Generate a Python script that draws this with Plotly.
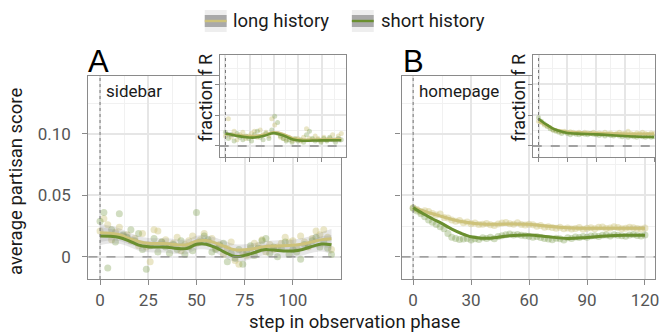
import plotly.graph_objects as go

# ------------------------------------------------------------------ data
# main panel A (sidebar): smoothed trend knots
a_knots = [0, 5, 10, 15, 20, 25, 30, 35, 40, 45, 50, 55, 60, 65, 70, 75, 80, 85, 90, 95, 100, 105, 110, 115, 120]
a_short_line = [0.0170, 0.0168, 0.0158, 0.0130, 0.0095, 0.0082, 0.0080, 0.0078, 0.0068, 0.0068, 0.0102, 0.0103, 0.0075,
                0.0035, 0.0003, 0.0012, 0.0035, 0.0058, 0.0055, 0.0048, 0.0048, 0.0060, 0.0085, 0.0105, 0.0098]
a_long_line = [0.0195, 0.0192, 0.0180, 0.0150, 0.0125, 0.0110, 0.0108, 0.0107, 0.0098, 0.0098, 0.0128, 0.0132, 0.0112,
               0.0082, 0.0058, 0.0058, 0.0068, 0.0082, 0.0088, 0.0090, 0.0095, 0.0105, 0.0122, 0.0140, 0.0148]
a_band = [0.0075, 0.0060, 0.0052, 0.0048, 0.0045, 0.0044, 0.0044, 0.0044, 0.0044, 0.0044, 0.0044, 0.0044, 0.0044,
          0.0044, 0.0044, 0.0044, 0.0044, 0.0044, 0.0044, 0.0044, 0.0045, 0.0048, 0.0052, 0.0062, 0.0078]
# per-step observations (every 2nd step)
a_short_pts = [0.029, 0.036, -0.009, 0.022, 0.012, 0.035, 0.018, 0.016, 0.022, 0.013, 0.019, 0.006, -0.010, 0.009,
               0.015, 0.004, 0.012, 0.008, 0.003, 0.010, 0.006, 0.013, 0.002, 0.008, 0.005, 0.036, 0.012, 0.017,
               0.014, 0.004, 0.006, 0.009, 0.011, -0.004, 0.003, -0.001, 0.006, -0.006, 0.004, 0.009, 0.001, 0.007,
               0.013, 0.015, 0.003, 0.008, 0.000, 0.007, 0.012, 0.002, 0.006, 0.004, -0.002, 0.010, 0.009, 0.013,
               0.016, 0.008, 0.012, 0.007, 0.002]
a_long_pts = [0.021, 0.031, 0.026, 0.014, 0.020, 0.024, 0.017, 0.018, 0.013, 0.015, 0.009, 0.019, 0.008, -0.004,
              0.022, 0.021, 0.012, 0.014, 0.009, 0.011, 0.016, 0.005, 0.010, 0.013, 0.017, 0.011, 0.014, 0.019,
              0.012, 0.015, 0.007, 0.010, 0.002, 0.007, 0.012, -0.003, -0.006, 0.003, 0.001, 0.007, 0.011, 0.009,
              0.014, 0.004, 0.010, 0.006, 0.008, 0.011, 0.016, 0.012, 0.013, 0.007, 0.017, 0.012, 0.008, 0.015,
              0.021, 0.018, 0.022, 0.016, 0.006]

# main panel B (homepage)
b_knots = [0, 5, 10, 15, 20, 25, 30, 35, 40, 50, 60, 70, 80, 90, 100, 110, 120]
b_short_line = [0.0400, 0.0352, 0.0310, 0.0270, 0.0225, 0.0190, 0.0163, 0.0152, 0.0152, 0.0172, 0.0178, 0.0163,
                0.0150, 0.0158, 0.0170, 0.0175, 0.0175]
b_long_line = [0.0400, 0.0375, 0.0350, 0.0328, 0.0305, 0.0287, 0.0275, 0.0268, 0.0264, 0.0268, 0.0265, 0.0248,
               0.0236, 0.0232, 0.0232, 0.0233, 0.0233]
b_band = [0.0016, 0.0013, 0.0012, 0.0011, 0.0011, 0.0011, 0.0011, 0.0011, 0.0011, 0.0011, 0.0011, 0.0011,
          0.0011, 0.0011, 0.0011, 0.0012, 0.0015]
b_long_pts = [0.0400, 0.0385, 0.0365, 0.0375, 0.0368, 0.0352, 0.0340, 0.0348, 0.0320, 0.0315, 0.0300, 0.0290,
              0.0295, 0.0278, 0.0283, 0.0270, 0.0276, 0.0262, 0.0265, 0.0272, 0.0260, 0.0255, 0.0268, 0.0275,
              0.0280, 0.0270, 0.0265, 0.0278, 0.0262, 0.0258, 0.0265, 0.0260, 0.0248, 0.0255, 0.0240, 0.0245,
              0.0238, 0.0232, 0.0240, 0.0228, 0.0235, 0.0226, 0.0230, 0.0238, 0.0225, 0.0232, 0.0236, 0.0228,
              0.0240, 0.0242, 0.0230, 0.0235, 0.0244, 0.0238, 0.0228, 0.0232, 0.0240, 0.0236, 0.0230, 0.0226, 0.0234]
b_short_pts = [0.0395, 0.0372, 0.0350, 0.0325, 0.0300, 0.0282, 0.0262, 0.0245, 0.0228, 0.0190, 0.0160, 0.0150,
               0.0142, 0.0145, 0.0150, 0.0138, 0.0148, 0.0142, 0.0155, 0.0150, 0.0160, 0.0148, 0.0165, 0.0172,
               0.0180, 0.0185, 0.0178, 0.0182, 0.0175, 0.0172, 0.0168, 0.0160, 0.0165, 0.0158, 0.0150, 0.0145,
               0.0140, 0.0152, 0.0148, 0.0138, 0.0155, 0.0150, 0.0162, 0.0158, 0.0165, 0.0160, 0.0170, 0.0172,
               0.0166, 0.0175, 0.0178, 0.0170, 0.0180, 0.0176, 0.0172, 0.0168, 0.0178, 0.0182, 0.0174, 0.0170, 0.0178]

# inset A (fraction of R, sidebar)
ia_knots = [0, 10, 20, 30, 40, 50, 60, 70, 80, 90, 100, 110, 120]
ia_short_line = [0.100, 0.085, 0.072, 0.068, 0.082, 0.104, 0.085, 0.052, 0.042, 0.044, 0.045, 0.046, 0.046]
ia_long_line = [0.095, 0.090, 0.082, 0.080, 0.090, 0.110, 0.095, 0.062, 0.050, 0.050, 0.052, 0.053, 0.053]
ia_band = [0.020, 0.014, 0.012, 0.012, 0.012, 0.012, 0.012, 0.012, 0.012, 0.012, 0.012, 0.014, 0.020]
ia_short_pts = [0.11, 0.06, 0.09, 0.04, 0.10, 0.07, 0.05, 0.08, 0.06, 0.04, 0.09, 0.12, 0.07, 0.05, 0.10, 0.06,
                0.13, 0.24, 0.19, 0.08, 0.06, 0.04, 0.05, 0.03, 0.06, 0.04, 0.05, 0.03, 0.09, 0.12, 0.06, 0.04,
                0.05, 0.03, 0.06, 0.04, 0.07, 0.05, 0.03, 0.06, 0.05]
ia_long_pts = [0.08, 0.22, 0.07, 0.12, 0.05, 0.09, 0.11, 0.06, 0.08, 0.10, 0.12, 0.07, 0.13, 0.09, 0.11, 0.08,
               0.22, 0.17, 0.10, 0.07, 0.06, 0.05, 0.07, 0.04, 0.05, 0.06, 0.04, 0.07, 0.14, 0.06, 0.05, 0.08,
               0.06, 0.04, 0.07, 0.05, 0.06, 0.09, 0.05, 0.08, 0.10]

# inset B (fraction of R, homepage)
ib_knots = [0, 5, 10, 15, 20, 30, 40, 60, 80, 100, 120]
ib_short_line = [0.220, 0.190, 0.165, 0.140, 0.125, 0.105, 0.100, 0.094, 0.085, 0.077, 0.073]
ib_long_line = [0.200, 0.180, 0.160, 0.140, 0.128, 0.115, 0.110, 0.105, 0.100, 0.098, 0.098]
ib_band = [0.012, 0.008, 0.007, 0.006, 0.006, 0.006, 0.006, 0.006, 0.006, 0.007, 0.010]
ib_short_pts = [0.23, 0.20, 0.18, 0.16, 0.14, 0.13, 0.12, 0.11, 0.10, 0.11, 0.10, 0.09, 0.10, 0.095, 0.09, 0.10,
                0.095, 0.09, 0.10, 0.095, 0.09, 0.085, 0.09, 0.08, 0.09, 0.085, 0.08, 0.09, 0.08, 0.075, 0.085,
                0.07, 0.08, 0.075, 0.07, 0.08, 0.075, 0.07, 0.08, 0.07, 0.075]
ib_long_pts = [0.20, 0.19, 0.17, 0.16, 0.15, 0.13, 0.125, 0.12, 0.115, 0.12, 0.11, 0.115, 0.11, 0.105, 0.11, 0.10,
               0.11, 0.105, 0.10, 0.11, 0.10, 0.105, 0.10, 0.11, 0.10, 0.105, 0.095, 0.10, 0.11, 0.10, 0.105,
               0.12, 0.10, 0.095, 0.105, 0.10, 0.11, 0.10, 0.095, 0.105, 0.10]

series_names = ["long history", "short history"]
main_y_tickvals = [0, 0.05, 0.10]
main_y_ticktext = ["0", "0.05", "0.10"]

# ------------------------------------------------------------------ style
W, H = 662, 335
FONT = "Roboto, Lato, sans-serif"
FONT_WIDE = "Liberation Sans, Arial, sans-serif"
LONG_LINE = "#cdc27a"
SHORT_LINE = "#6a8f2f"
LONG_PT = "rgba(205,196,122,0.42)"
SHORT_PT = "rgba(112,150,62,0.32)"
BAND = "rgba(140,140,140,0.22)"
AXIS_COL = "#8a8a8a"


def px(x):
    return x / W


def py(y):
    return 1 - y / H


fig = go.Figure()

panels = [
    dict(xa="x", ya="y", step=2, ms=7, knots=a_knots, lines=(a_long_line, a_short_line), band=a_band,
         pts=(a_long_pts, a_short_pts), lw=3),
    dict(xa="x2", ya="y2", step=2, ms=7, knots=b_knots, lines=(b_long_line, b_short_line), band=b_band,
         pts=(b_long_pts, b_short_pts), lw=3),
    dict(xa="x3", ya="y3", step=3, ms=5, knots=ia_knots, lines=(ia_long_line, ia_short_line), band=ia_band,
         pts=(ia_long_pts, ia_short_pts), lw=2.6),
    dict(xa="x4", ya="y4", step=3, ms=5, knots=ib_knots, lines=(ib_long_line, ib_short_line), band=ib_band,
         pts=(ib_long_pts, ib_short_pts), lw=2.6),
]

for p in panels:
    for vals, col in zip(p["pts"], (LONG_PT, SHORT_PT)):
        xs = [i * p["step"] for i in range(len(vals))]
        fig.add_trace(go.Scatter(x=xs, y=vals, mode="markers", xaxis=p["xa"], yaxis=p["ya"],
                                 marker=dict(size=p["ms"], color=col, line=dict(width=0)),
                                 showlegend=False, hoverinfo="skip"))
    for line in p["lines"]:
        lo = [v - b for v, b in zip(line, p["band"])]
        hi = [v + b for v, b in zip(line, p["band"])]
        fig.add_trace(go.Scatter(x=p["knots"], y=lo, mode="lines", xaxis=p["xa"], yaxis=p["ya"],
                                 line=dict(width=0, shape="spline"), showlegend=False, hoverinfo="skip"))
        fig.add_trace(go.Scatter(x=p["knots"], y=hi, mode="lines", xaxis=p["xa"], yaxis=p["ya"],
                                 line=dict(width=0, shape="spline"), fill="tonexty", fillcolor=BAND,
                                 showlegend=False, hoverinfo="skip"))
    for line, col, name in zip(p["lines"], (LONG_LINE, SHORT_LINE), series_names):
        fig.add_trace(go.Scatter(x=p["knots"], y=line, mode="lines", xaxis=p["xa"], yaxis=p["ya"], name=name,
                                 line=dict(width=p["lw"], color=col, shape="spline"),
                                 showlegend=False, hoverinfo="skip"))


def axis(rng, domain, anchor, showlabels, dtick=None, minor=None, tickvals=None, ticktext=None, ticklen=5,
         standoff=0):
    d = dict(range=rng, domain=domain, anchor=anchor, showline=True, mirror=True, linecolor=AXIS_COL,
             linewidth=1.3, ticks="outside", ticklen=ticklen, tickwidth=1.1, tickcolor=AXIS_COL,
             showgrid=True, gridcolor="#e6e6e6", gridwidth=1.5, zeroline=False,
             showticklabels=showlabels, tickfont=dict(family=FONT, size=17, color="#555555"),
             fixedrange=True, ticklabelstandoff=standoff, ticklabeloverflow="allow")
    if tickvals is not None:
        d.update(tickmode="array", tickvals=tickvals, ticktext=ticktext)
    else:
        d.update(tick0=0, dtick=dtick)
    if minor is not None:
        d["minor"] = dict(tick0=0, dtick=minor, showgrid=True, gridcolor="#f1f1f1", gridwidth=0.9, ticks="")
    return d


yr = [-0.018, 0.147]
ydom = [py(279), py(76)]
iydom = [py(157), py(55)]
iyr = [-0.089, 0.735]

fig.update_layout(
    width=W, height=H, margin=dict(l=0, r=0, t=0, b=0),
    paper_bgcolor="white", plot_bgcolor="white", showlegend=False,
    xaxis=axis([-6, 124.9], [px(89), px(343)], "y", True, dtick=25, minor=12.5),
    yaxis=axis(yr, ydom, "x", True, minor=0.025, tickvals=main_y_tickvals, ticktext=main_y_ticktext, standoff=8),
    xaxis2=axis([-6, 125.2], [px(404), px(659)], "y2", True, dtick=30, minor=15),
    yaxis2=axis(yr, ydom, "x2", False, minor=0.025, tickvals=main_y_tickvals, ticktext=main_y_ticktext),
    xaxis3=axis([-6, 124.8], [px(221), px(348)], "y3", False, dtick=25, minor=12.5, ticklen=4),
    yaxis3=axis(iyr, iydom, "x3", False, dtick=0.25, minor=0.125, ticklen=4),
    xaxis4=axis([-6, 121], [px(536), px(659)], "y4", False, dtick=30, minor=15, ticklen=4),
    yaxis4=axis(iyr, iydom, "x4", False, dtick=0.25, minor=0.125, ticklen=4),
)

shapes = []
for xa, ya in [("x", "y"), ("x2", "y2"), ("x3", "y3"), ("x4", "y4")]:
    shapes.append(dict(type="line", xref=xa, yref=ya + " domain", x0=0, x1=0, y0=0, y1=1,
                       line=dict(color="#777777", width=1, dash="dot")))
    shapes.append(dict(type="line", xref=xa + " domain", yref=ya, x0=0, x1=1, y0=0, y1=0,
                       line=dict(color="#8a8a8a", width=1.3, dash="dash")))

# manual legend keys
legend_keys = [(206, LONG_LINE), (354, SHORT_LINE)]
for x0, col in legend_keys:
    shapes.append(dict(type="rect", xref="paper", yref="paper", x0=px(x0), x1=px(x0 + 22), y0=py(32), y1=py(10),
                       fillcolor="#eeeeee", line=dict(width=0), layer="above"))
    shapes.append(dict(type="rect", xref="paper", yref="paper", x0=px(x0), x1=px(x0 + 22), y0=py(27), y1=py(15),
                       fillcolor="#a9a9a9", line=dict(width=0), layer="above"))
    shapes.append(dict(type="line", xref="paper", yref="paper", x0=px(x0), x1=px(x0 + 22), y0=py(21), y1=py(21),
                       line=dict(color=col, width=2.4), layer="above"))
fig.update_layout(shapes=shapes)

ann = []


def text(t, x, y, size, xanchor="center", angle=0, family=FONT, color="#1a1a1a"):
    ann.append(dict(text=t, x=px(x), y=py(y), xref="paper", yref="paper", showarrow=False, xanchor=xanchor,
                    yanchor="middle", textangle=angle, font=dict(family=family, size=size, color=color)))


text("A", 99, 61, 31, family=FONT_WIDE, color="#000000")
text("B", 416, 61, 31, family=FONT_WIDE, color="#000000")
text("sidebar", 105, 91, 17, xanchor="left")
text("homepage", 420, 91, 17, xanchor="left")
text("fraction f R", 206, 98, 18, angle=-90)
text("fraction f R", 521, 98, 18, angle=-90)
text("average partisan score", 16, 181, 18.5, angle=-90)
text("step in observation phase", 357, 322, 18.5)
text(series_names[0], 232, 21, 18.5, xanchor="left")
text(series_names[1], 381, 21, 18.5, xanchor="left")
fig.update_layout(annotations=ann)

fig.write_html("out.html")
